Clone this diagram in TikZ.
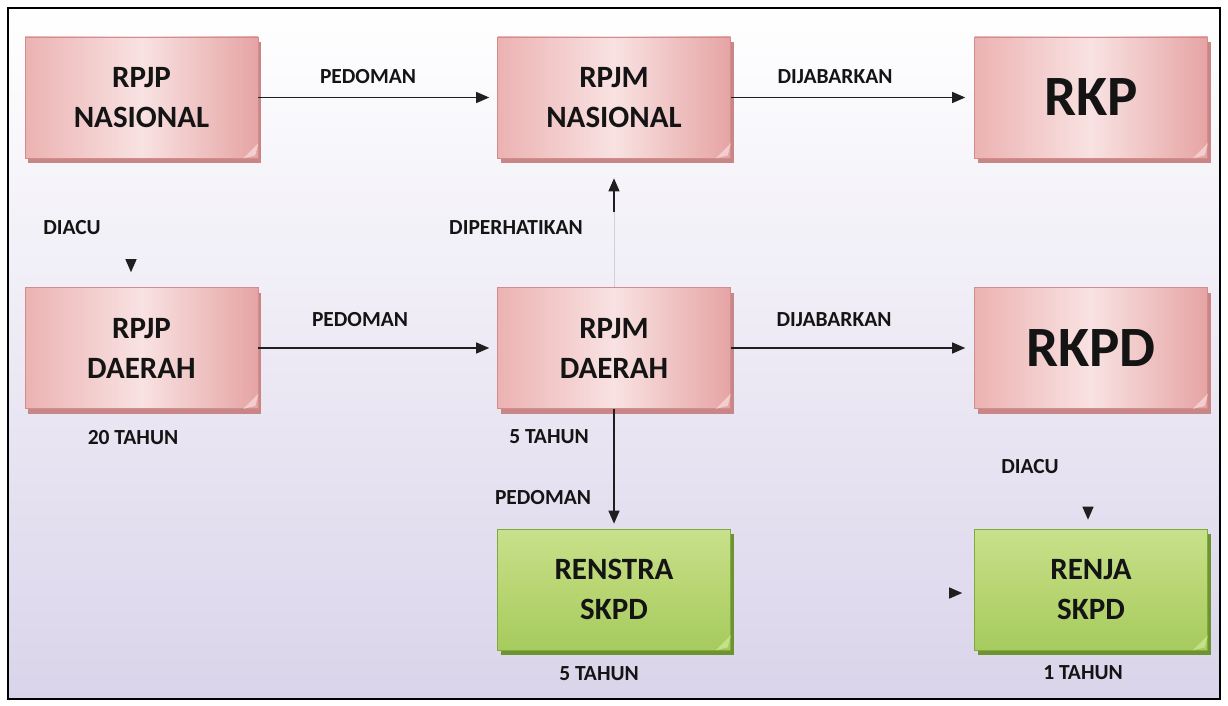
\documentclass[tikz,border=0pt]{standalone}
\usepackage{fontspec}
\setmainfont{Carlito}
\usetikzlibrary{arrows.meta,shadows,calc}
\definecolor{pinkleft}{RGB}{236,178,178}
\definecolor{pinkmid}{RGB}{249,226,226}
\definecolor{pinkright}{RGB}{230,164,164}
\definecolor{pinkedge}{RGB}{210,140,140}
\definecolor{pinkshadow}{RGB}{200,134,134}
\definecolor{pinkfold}{RGB}{244,206,206}
\definecolor{greentop}{RGB}{200,225,140}
\definecolor{greenmid}{RGB}{184,213,114}
\definecolor{greenbot}{RGB}{166,203,94}
\definecolor{greenedge}{RGB}{128,170,62}
\definecolor{greenshadow}{RGB}{110,148,50}
\definecolor{greenfold}{RGB}{196,224,136}
\definecolor{bgbottom}{RGB}{218,212,234}
\definecolor{txt}{RGB}{20,20,20}
\tikzset{
  boxbase/.style={rectangle, minimum width=233pt, minimum height=121pt, inner sep=0pt,
    line width=0.6pt, align=center, text=txt},
  pinkbox/.style={boxbase, draw=pinkedge, left color=pinkleft, right color=pinkright, middle color=pinkmid,
    drop shadow={shadow xshift=3pt, shadow yshift=-5pt, fill=pinkshadow, opacity=1}},
  greenbox/.style={boxbase, draw=greenedge, top color=greentop, bottom color=greenbot, middle color=greenmid,
    drop shadow={shadow xshift=3pt, shadow yshift=-5pt, fill=greenshadow, opacity=1}},
  midtext/.style={font=\bfseries\fontsize{31}{40}\selectfont},
  bigtext/.style={font=\bfseries\fontsize{57}{60}\selectfont},
  lbl/.style={font=\bfseries\fontsize{21.5}{24}\selectfont, text=txt, inner sep=0pt},
  arr/.style={-{Triangle[length=13pt,width=11pt]}, line width=1.2pt, draw=black!88},
}
\newcommand{\curl}[2]{%
  \fill[#2] ($(#1.south east)+(-15,0)$) -- ($(#1.south east)+(0,-15)$) -- ($(#1.south east)+(-3,-3)$) -- cycle;}
\begin{document}
\begin{tikzpicture}[x=1pt,y=-1pt]
\useasboundingbox (0,0) rectangle (1228,706);
\fill[white] (0,0) rectangle (1228,706);
\shade[top color=white, bottom color=bgbottom] (8,8) rectangle (1220,699);
\draw[line width=2.5pt, black] (8,8) rectangle (1220,699);

% boxes
\node[pinkbox, midtext] (rpjpn) at (141.5,97.5) {RPJP\\NASIONAL};
\node[pinkbox, midtext] (rpjmn) at (614,97.5) {RPJM\\NASIONAL};
\node[pinkbox, bigtext] (rkp) at (1091,97.5) {RKP};
\node[pinkbox, midtext] (rpjpd) at (141.5,348) {RPJP\\DAERAH};
\node[pinkbox, midtext] (rpjmd) at (614,348) {RPJM\\DAERAH};
\node[pinkbox, bigtext] (rkpd) at (1091,348) {RKPD};
\node[greenbox, midtext] (renstra) at (614,589.5) {RENSTRA\\SKPD};
\node[greenbox, midtext] (renja) at (1091,589.5) {RENJA\\SKPD};

\curl{rpjpn}{pinkfold}
\curl{rpjmn}{pinkfold}
\curl{rkp}{pinkfold}
\curl{rpjpd}{pinkfold}
\curl{rpjmd}{pinkfold}
\curl{rkpd}{pinkfold}
\curl{renstra}{greenfold}
\curl{renja}{greenfold}

% connectors
\draw[arr, shorten >=8pt] (rpjpn.east) -- (rpjmn.west);
\draw[arr, shorten >=9pt] (rpjmn.east) -- (rkp.west);
\draw[arr, shorten >=8pt] (rpjpd.east) -- (rpjmd.west);
\draw[arr, shorten >=9pt] (rpjmd.east) -- (rkpd.west);
\draw[arr, shorten >=5pt] (rpjmd.south) -- (renstra.north);
\coordinate (dp) at (614,212);
\draw[line width=1pt, black!18] (rpjmd.north) -- (dp);
\draw[arr, shorten >=20pt] (dp) -- (rpjmn.south);

% lone arrowheads
\coordinate (a1) at (131,260);
\draw[arr, shorten >=15pt] (a1) -- (a1 |- rpjpd.north);
\coordinate (a2) at (1088,508);
\draw[arr, shorten >=9pt] (a2) -- (a2 |- renja.north);
\coordinate (a3) at (950,593);
\draw[arr, shorten >=12pt] (a3) -- (a3 -| renja.west);

% labels
\node[lbl] (l1) at (368,77) {PEDOMAN};
\node[lbl] (l2) at (835,77) {DIJABARKAN};
\node[lbl] (l3) at (72,228) {DIACU};
\node[lbl] (l4) at (516,228) {DIPERHATIKAN};
\node[lbl] (l5) at (360,320) {PEDOMAN};
\node[lbl] (l6) at (834,320) {DIJABARKAN};
\node[lbl] (l7) at (133,438) {20 TAHUN};
\node[lbl] (l8) at (549,437) {5 TAHUN};
\node[lbl] (l9) at (543,498) {PEDOMAN};
\node[lbl] (l10) at (1030,467) {DIACU};
\node[lbl] (l11) at (599,674) {5 TAHUN};
\node[lbl] (l12) at (1083,673) {1 TAHUN};
\end{tikzpicture}
\end{document}
